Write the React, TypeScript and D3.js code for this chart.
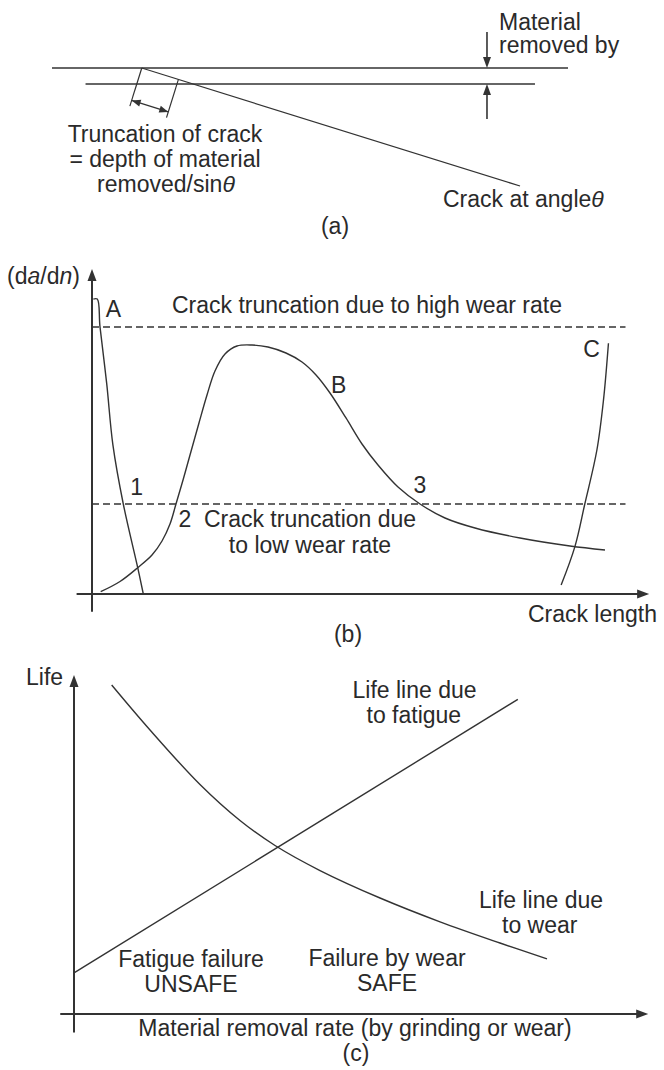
import React from "react";
import * as d3 from "d3";

type Pt = [number, number];

const W = 664;
const H = 1070;

// ---------- (a) ground surface with an inclined crack ----------
// x: position along the surface (0–100), y: depth below the original surface
const surfaceOriginal: Pt[] = [[0, 0], [100, 0]];
const surfaceAfterRemoval: Pt[] = [[6.5, 16], [93.6, 16]];
const crackPath: Pt[] = [[17.4, 0], [90.7, 118]];
const removalArrowX = 84.3;
const removedLayer = [0, 16];
const truncationEndX = 24.5;

// ---------- (b) crack growth rate against crack length ----------
const crackRateA: Pt[] = [
  [0.24, 98.3], [0.96, 98.3], [1.45, 89.1], [2.67, 70.2], [3.8, 49.7],
  [5.69, 30], [8.31, 8.8], [9.33, 0],
];
const crackRateB: Pt[] = [
  [1.58, 0.77], [5.09, 4.17], [8.31, 8.77], [10.91, 13.0], [12.73, 17.67],
  [14.18, 23.33], [15.27, 30.0], [16.55, 38.0], [17.82, 46.33], [19.45, 57.0],
  [20.91, 66.33], [22.36, 74.33], [24.18, 80.0], [26.36, 82.67], [29.09, 83.0],
  [32.0, 82.33], [35.27, 80.33], [38.18, 77.33], [40.73, 73.0], [43.27, 67.0],
  [46.18, 58.67], [49.09, 50.0], [52.0, 43.0], [55.64, 35.67], [59.64, 30.0],
  [64.18, 25.33], [69.64, 22.0], [77.82, 18.67], [86.91, 16.0], [93.27, 14.67],
];
const crackRateC: Pt[] = [
  [85.3, 3.0], [87.8, 15.8], [89.6, 30.0], [91.8, 48.0], [93.0, 64.7], [93.9, 83.6],
];
const highWearLevel = 89;
const lowWearLevel = 30;
const wearLevelSpan = [0, 97];
const rateAxisX = [-2.8, 101.3];
const rateAxisY = [-5.9, 108.3];

// ---------- (c) life against material removal rate ----------
const fatigueLifeLine: Pt[] = [[0, 13.7], [80.7, 104.9]];
const wearLifeLine: Pt[] = [
  [6.85, 109.67], [13.82, 94.67], [22.91, 76.5], [30.18, 64.5], [36.55, 56.17],
  [44.73, 47.83], [55.64, 38.67], [66.55, 30.73], [77.45, 23.67], [86.0, 18.4],
];
const lifeAxisX = [-2.5, 104.4];
const lifeAxisY = [-6.2, 113];

const FONT = "'Liberation Sans', Arial, Helvetica, sans-serif";
const FS = 23;
const INK = "#2a2a2a";
const LINE = "#333";

const ax = d3.scaleLinear().domain([0, 100]).range([52, 568]);
const ay = d3.scaleLinear().domain([0, 120]).range([68, 188]);
const bx = d3.scaleLinear().domain([0, 100]).range([92, 642]);
const by = d3.scaleLinear().domain([0, 100]).range([594, 294]);
const cx = d3.scaleLinear().domain([0, 100]).range([74, 624]);
const cy = d3.scaleLinear().domain([0, 100]).range([1014, 714]);

function arrowHead(tx: number, ty: number, dx: number, dy: number, len = 11, half = 4) {
  const n = Math.hypot(dx, dy);
  const ux = dx / n, uy = dy / n;
  const bxp = tx - ux * len, byp = ty - uy * len;
  const px = -uy * half, py = ux * half;
  return `M${tx},${ty}L${bxp + px},${byp + py}L${bxp - px},${byp - py}Z`;
}

const T = (props: any) => (
  <text fontFamily={FONT} fontSize={FS} fill={INK} {...props} />
);

export default function App() {
  const smooth = (sx: any, sy: any) =>
    d3.line<Pt>().x((d) => sx(d[0])).y((d) => sy(d[1])).curve(d3.curveCatmullRom.alpha(0.5));
  const straight = (sx: any, sy: any) =>
    d3.line<Pt>().x((d) => sx(d[0])).y((d) => sy(d[1]));

  // crack geometry in pixels for the truncation bracket
  const c0x = ax(crackPath[0][0]), c0y = ay(crackPath[0][1]);
  const c1x = ax(crackPath[1][0]), c1y = ay(crackPath[1][1]);
  const clen = Math.hypot(c1x - c0x, c1y - c0y);
  const ux = (c1x - c0x) / clen, uy = (c1y - c0y) / clen;
  const nx = -uy, ny = ux; // perpendicular pointing down-left
  const rEx = ax(truncationEndX);
  const rEy = c0y + ((rEx - c0x) * uy) / ux;
  const bracketLen = 40;
  const arrowOff = 34;
  const lA = [c0x + nx * arrowOff, c0y + ny * arrowOff];
  const rA = [rEx + nx * arrowOff, rEy + ny * arrowOff];

  const ax0 = ax(removalArrowX);
  const topY = ay(removedLayer[0]);
  const lowY = ay(removedLayer[1]);

  return (
    <svg
      width={W}
      height={H}
      viewBox={`0 0 ${W} ${H}`}
      style={{ position: "absolute", left: 0, top: 0, background: "#fff" }}
    >
      <rect width={W} height={H} fill="#fff" />

      {/* ----- (a) ----- */}
      <g stroke={LINE} fill="none">
        <path d={straight(ax, ay)(surfaceOriginal)!} strokeWidth={1.6} />
        <path d={straight(ax, ay)(surfaceAfterRemoval)!} strokeWidth={1.6} />
        <path d={straight(ax, ay)(crackPath)!} strokeWidth={1.2} />
        <line x1={c0x} y1={c0y} x2={c0x + nx * bracketLen} y2={c0y + ny * bracketLen} strokeWidth={1.2} />
        <line x1={rEx} y1={rEy} x2={rEx + nx * bracketLen} y2={rEy + ny * bracketLen} strokeWidth={1.2} />
        <line x1={lA[0]} y1={lA[1]} x2={rA[0]} y2={rA[1]} strokeWidth={1.3} />
        <line x1={ax0} y1={topY - 36} x2={ax0} y2={topY - 4} strokeWidth={1.6} />
        <line x1={ax0} y1={lowY + 35} x2={ax0} y2={lowY + 4} strokeWidth={1.6} />
      </g>
      <g fill={LINE}>
        <path d={arrowHead(lA[0], lA[1], lA[0] - rA[0], lA[1] - rA[1], 9, 3.5)} />
        <path d={arrowHead(rA[0], rA[1], rA[0] - lA[0], rA[1] - lA[1], 9, 3.5)} />
        <path d={arrowHead(ax0, topY, 0, 1, 11, 4)} />
        <path d={arrowHead(ax0, lowY, 0, -1, 11, 4)} />
      </g>
      <T x={499} y={29.5}>Material</T>
      <T x={499} y={53}>removed by</T>
      <T x={165} y={141.7} textAnchor="middle">Truncation of crack</T>
      <T x={165} y={166.7} textAnchor="middle">= depth of material</T>
      <T x={166} y={191.7} textAnchor="middle">
        removed/sin<tspan fontStyle="italic">θ</tspan>
      </T>
      <T x={443} y={207}>
        Crack at angle<tspan fontStyle="italic">θ</tspan>
      </T>
      <T x={335} y={234} textAnchor="middle">(a)</T>

      {/* ----- (b) ----- */}
      <g stroke={LINE} fill="none">
        <line x1={bx(0)} y1={by(rateAxisY[0])} x2={bx(0)} y2={by(rateAxisY[1]) + 6} strokeWidth={2} />
        <line x1={bx(rateAxisX[0])} y1={by(0)} x2={bx(rateAxisX[1]) - 6} y2={by(0)} strokeWidth={2} />
        <line x1={bx(wearLevelSpan[0])} y1={by(highWearLevel)} x2={bx(wearLevelSpan[1])} y2={by(highWearLevel)} strokeWidth={1.4} strokeDasharray="7 4" />
        <line x1={bx(wearLevelSpan[0])} y1={by(lowWearLevel)} x2={bx(wearLevelSpan[1])} y2={by(lowWearLevel)} strokeWidth={1.4} strokeDasharray="7 4" />
        <path d={smooth(bx, by)(crackRateA)!} strokeWidth={1.4} />
        <path d={smooth(bx, by)(crackRateB)!} strokeWidth={1.4} />
        <path d={smooth(bx, by)(crackRateC)!} strokeWidth={1.4} />
      </g>
      <g fill={LINE}>
        <path d={arrowHead(bx(0), by(rateAxisY[1]), 0, -1, 12, 4.5)} />
        <path d={arrowHead(bx(rateAxisX[1]), by(0), 1, 0, 12, 4.5)} />
      </g>
      <T x={80} y={284} textAnchor="end">
        (d<tspan fontStyle="italic">a</tspan>/d<tspan fontStyle="italic">n</tspan>)
      </T>
      <T x={105.7} y={316.7}>A</T>
      <T x={172} y={312.7}>Crack truncation due to high wear rate</T>
      <T x={331} y={393}>B</T>
      <T x={591.5} y={357} textAnchor="middle">C</T>
      <T x={136.7} y={495} textAnchor="middle">1</T>
      <T x={420} y={493} textAnchor="middle">3</T>
      <T x={185} y={527} textAnchor="middle">2</T>
      <T x={310} y={527} textAnchor="middle">Crack truncation due</T>
      <T x={310} y={553} textAnchor="middle">to low wear rate</T>
      <T x={657} y={621.5} textAnchor="end">Crack length</T>
      <T x={348} y={642} textAnchor="middle">(b)</T>

      {/* ----- (c) ----- */}
      <g stroke={LINE} fill="none">
        <line x1={cx(0)} y1={cy(lifeAxisY[0])} x2={cx(0)} y2={cy(lifeAxisY[1]) + 6} strokeWidth={2} />
        <line x1={cx(lifeAxisX[0])} y1={cy(0)} x2={cx(lifeAxisX[1]) - 6} y2={cy(0)} strokeWidth={2} />
        <path d={straight(cx, cy)(fatigueLifeLine)!} strokeWidth={1.4} />
        <path d={smooth(cx, cy)(wearLifeLine)!} strokeWidth={1.4} />
      </g>
      <g fill={LINE}>
        <path d={arrowHead(cx(0), cy(lifeAxisY[1]), 0, -1, 12, 4.5)} />
        <path d={arrowHead(cx(lifeAxisX[1]), cy(0), 1, 0, 12, 4.5)} />
      </g>
      <T x={26} y={685}>Life</T>
      <T x={352.5} y={698}>Life line due</T>
      <T x={366.5} y={723}>to fatigue</T>
      <T x={479} y={908}>Life line due</T>
      <T x={502} y={933}>to wear</T>
      <T x={191} y={967} textAnchor="middle">Fatigue failure</T>
      <T x={191} y={992} textAnchor="middle">UNSAFE</T>
      <T x={387} y={965.5} textAnchor="middle">Failure by wear</T>
      <T x={387} y={990.5} textAnchor="middle">SAFE</T>
      <T x={355} y={1036} textAnchor="middle">Material removal rate (by grinding or wear)</T>
      <T x={356} y={1061} textAnchor="middle">(c)</T>
    </svg>
  );
}
